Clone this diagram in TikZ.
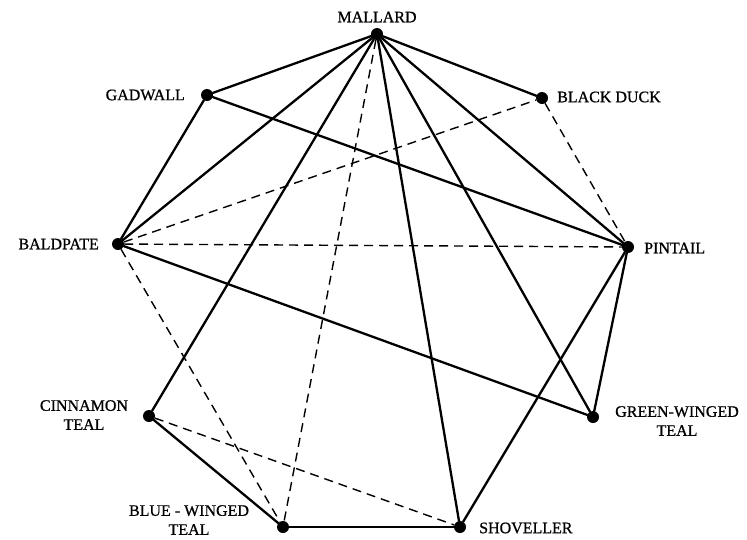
\documentclass[tikz,border=0pt]{standalone}
\usepackage{fontspec}
\setmainfont{Liberation Serif}
\newfontfamily\labfont[FakeBold=0.8]{Liberation Serif}
\begin{document}
\begin{tikzpicture}[x=1pt,y=-1pt,
  duck/.style={circle,fill=black,draw=none,inner sep=0pt,minimum size=12pt},
  lab/.style={font=\labfont\fontsize{16}{19}\selectfont,inner sep=0pt,align=center},
  solidedge/.style={line width=2.3pt,line cap=round},
  dashededge/.style={line width=1.4pt,dash pattern=on 9pt off 6pt}]
\useasboundingbox (0,0) rectangle (747,539);

% dots
\node[duck] (M)  at (377,34)  {};
\node[duck] (G)  at (207,95)  {};
\node[duck] (BD) at (542,98)  {};
\node[duck] (BP) at (118,244) {};
\node[duck] (P)  at (628,247) {};
\node[duck] (C)  at (149,416) {};
\node[duck] (GW) at (593,417) {};
\node[duck] (BW) at (283,527) {};
\node[duck] (S)  at (460,527) {};

% labels
\node[lab] (lM)  at (377,17) {MALLARD};
\node[lab,anchor=east] (lG)  at (185,95) {GADWALL};
\node[lab,anchor=west] (lBD) at (557,97) {BLACK DUCK};
\node[lab,anchor=east] (lBP) at (99,244) {BALDPATE};
\node[lab,anchor=west] (lP)  at (644,248) {PINTAIL};
\node[lab] (lC)  at (84,415) {CINNAMON\\TEAL};
\node[lab] (lGW) at (677,421) {GREEN-WINGED\\TEAL};
\node[lab] (lBW) at (189,520) {BLUE - WINGED\\TEAL};
\node[lab,anchor=west] (lS)  at (479,528) {SHOVELLER};

% solid connections
\draw[solidedge] (M) -- (G);
\draw[solidedge] (M) -- (BD);
\draw[solidedge] (M) -- (BP);
\draw[solidedge] (M) -- (P);
\draw[solidedge] (M) -- (GW);
\draw[solidedge] (M) -- (S);
\draw[solidedge] (M) -- (C);
\draw[solidedge] (G) -- (BP);
\draw[solidedge] (G) -- (P);
\draw[solidedge] (BP) -- (GW);
\draw[solidedge] (P) -- (GW);
\draw[solidedge] (P) -- (S);
\draw[solidedge] (C) -- (BW);
\draw[solidedge] (BW) -- (S);

% dashed connections
\draw[dashededge] (M) -- (BW);
\draw[dashededge] (BP) -- (BD);
\draw[dashededge] (BP) -- (P);
\draw[dashededge] (BP) -- (BW);
\draw[dashededge] (BD) -- (P);
\draw[dashededge] (C) -- (S);
\end{tikzpicture}
\end{document}
